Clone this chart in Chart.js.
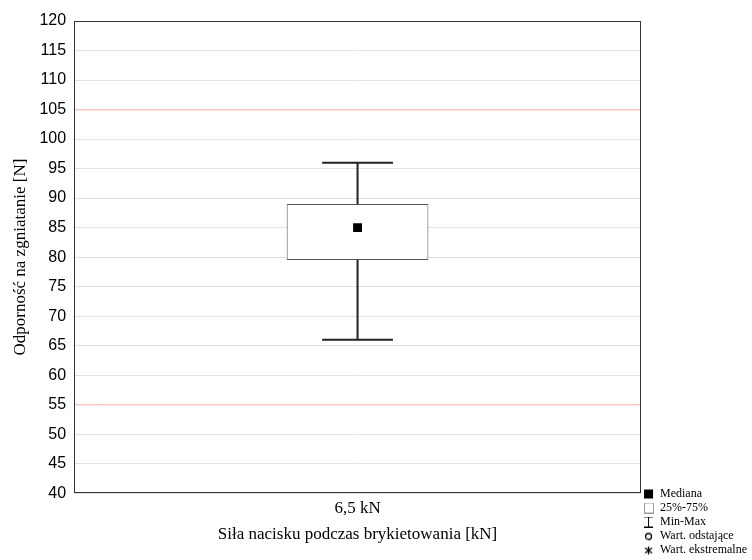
<!DOCTYPE html>
<html>
<head>
<meta charset="utf-8">
<script src="https://cdn.jsdelivr.net/npm/chart.js@4.4.1/dist/chart.umd.min.js"></script>
<style>
  html, body { margin: 0; padding: 0; background: #fff; }
  #wrap { width: 752px; height: 560px; }
</style>
</head>
<body>
<div id="wrap"><canvas id="boxChart"></canvas></div>
<script>
const categories = ['6,5 kN'];
const minValues = [66];
const q1Values = [79.5];
const medianValues = [85];
const q3Values = [89];
const maxValues = [96];
const limitLines = [55, 105];
const legendLabels = ['Mediana', '25%-75%', 'Min-Max', 'Wart. odstające', 'Wart. ekstremalne'];

// small canvases used as legend symbols
function makeIcon(draw) {
  const c = document.createElement('canvas');
  c.width = 11;
  c.height = 11;
  draw(c.getContext('2d'));
  return c;
}
const legendIcons = [
  makeIcon(g => { g.fillStyle = '#000'; g.fillRect(1, 1, 9, 9); }),
  makeIcon(g => { g.strokeStyle = '#999'; g.lineWidth = 1; g.strokeRect(1.5, 0.5, 9, 10); }),
  makeIcon(g => {
    g.strokeStyle = '#000'; g.lineWidth = 1;
    g.beginPath();
    g.moveTo(1, 0.5); g.lineTo(10, 0.5);
    g.moveTo(5.5, 0.5); g.lineTo(5.5, 10.5);
    g.moveTo(1, 10.5); g.lineTo(10, 10.5);
    g.stroke();
  }),
  makeIcon(g => { g.strokeStyle = '#000'; g.lineWidth = 1.3; g.beginPath(); g.arc(5.5, 6, 3, 0, Math.PI * 2); g.stroke(); }),
  makeIcon(g => {
    g.strokeStyle = '#000'; g.lineWidth = 1.3;
    g.beginPath();
    g.moveTo(5.5, 2); g.lineTo(5.5, 10);
    g.moveTo(2, 3.5); g.lineTo(9, 8.5);
    g.moveTo(2, 8.5); g.lineTo(9, 3.5);
    g.stroke();
  }),
];

const whiskerPlugin = {
  id: 'whiskers',
  afterDatasetsDraw(chart) {
    const { ctx, scales } = chart;
    const meta = chart.getDatasetMeta(0);
    ctx.save();
    ctx.strokeStyle = '#222';
    ctx.lineWidth = 2;
    meta.data.forEach((bar, i) => {
      const cx = bar.x;
      const half = bar.width / 4;
      const yMin = scales.y.getPixelForValue(minValues[i]);
      const yMax = scales.y.getPixelForValue(maxValues[i]);
      const yQ1 = scales.y.getPixelForValue(q1Values[i]);
      const yQ3 = scales.y.getPixelForValue(q3Values[i]);
      ctx.beginPath();
      ctx.moveTo(cx, yQ3); ctx.lineTo(cx, yMax);
      ctx.moveTo(cx - half, yMax); ctx.lineTo(cx + half, yMax);
      ctx.moveTo(cx, yQ1); ctx.lineTo(cx, yMin);
      ctx.moveTo(cx - half, yMin); ctx.lineTo(cx + half, yMin);
      ctx.stroke();
    });
    ctx.restore();
  },
};

const framePlugin = {
  id: 'frame',
  afterDraw(chart) {
    const { ctx, chartArea } = chart;
    ctx.save();
    ctx.strokeStyle = '#333';
    ctx.lineWidth = 1;
    ctx.strokeRect(Math.round(chartArea.left) + 0.5, Math.round(chartArea.top) + 0.5,
      Math.round(chartArea.width) - 1, Math.round(chartArea.height) - 1);
    ctx.restore();
  },
};

const isLimit = c => limitLines.includes(c.tick && c.tick.value);

const ctx = document.getElementById('boxChart').getContext('2d');
new Chart(ctx, {
  type: 'bar',
  data: {
    labels: categories,
    datasets: [
      {
        label: '25%-75%',
        data: q1Values.map((q, i) => [q, q3Values[i]]),
        backgroundColor: '#fff',
        borderColor: '#555',
        borderWidth: 1,
        borderSkipped: false,
        barPercentage: 0.25,
        categoryPercentage: 1,
        order: 2,
      },
      {
        type: 'line',
        label: 'Mediana',
        data: medianValues,
        showLine: false,
        pointStyle: 'rect',
        pointRadius: 6.3,
        pointBackgroundColor: '#000',
        pointBorderColor: '#000',
        pointBorderWidth: 0,
        order: 1,
      },
    ],
  },
  options: {
    responsive: true,
    maintainAspectRatio: false,
    animation: false,
    layout: { padding: { top: 21, right: -5, bottom: 2, left: 10 } },
    plugins: {
      tooltip: { enabled: false },
      legend: {
        position: 'right',
        align: 'end',
        fullSize: true,
        labels: {
          usePointStyle: true,
          boxWidth: 11,
          boxHeight: 11,
          padding: 2,
          color: '#000',
          font: { family: 'Liberation Serif', size: 12 },
          generateLabels: () => legendLabels.map((text, i) => ({
            text,
            pointStyle: legendIcons[i],
            fillStyle: '#fff',
            strokeStyle: '#000',
            lineWidth: 0,
            hidden: false,
            datasetIndex: 0,
          })),
        },
        onClick: () => {},
      },
    },
    scales: {
      x: {
        grid: { display: false, drawTicks: false },
        border: { display: false },
        ticks: { color: '#000', font: { family: 'Liberation Serif', size: 17 }, padding: 5 },
        title: {
          display: true,
          text: 'Siła nacisku podczas brykietowania [kN]',
          color: '#000',
          font: { family: 'Liberation Serif', size: 17 },
          padding: { top: 1, bottom: 13 },
        },
      },
      y: {
        min: 40,
        max: 120,
        border: { display: false },
        grid: {
          drawTicks: false,
          color: c => (isLimit(c) ? '#f9c4c4' : '#e2e2e2'),
          lineWidth: c => (isLimit(c) ? 1.5 : 1),
        },
        ticks: {
          stepSize: 5,
          color: '#000',
          padding: 8,
          font: { family: 'Liberation Sans', size: 16 },
        },
        title: {
          display: true,
          text: 'Odporność na zgniatanie [N]',
          color: '#000',
          font: { family: 'Liberation Serif', size: 17 },
          padding: { top: 0, bottom: 1 },
        },
      },
    },
  },
  plugins: [whiskerPlugin, framePlugin],
});
</script>
</body>
</html>
